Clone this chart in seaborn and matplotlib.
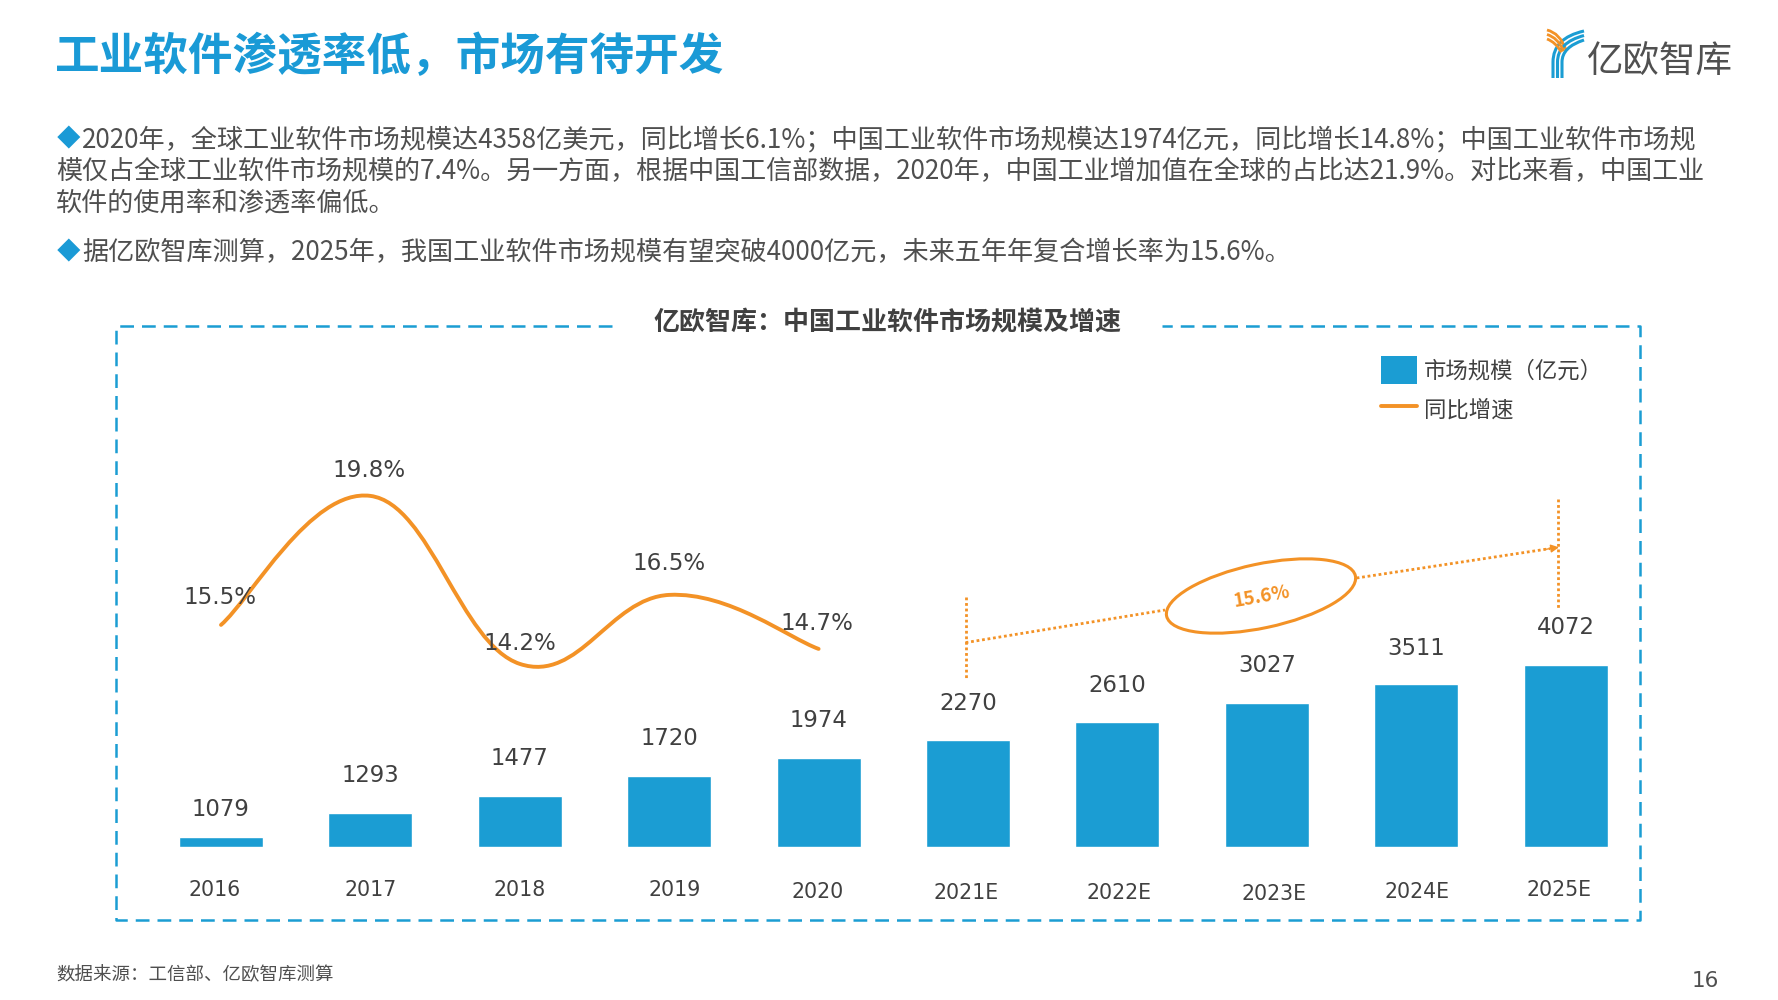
import matplotlib
matplotlib.use('Agg')
import matplotlib.pyplot as plt
import seaborn as sns
import numpy as np
from matplotlib.lines import Line2D
from matplotlib.patches import Patch, PathPatch, Ellipse
from matplotlib.path import Path
from matplotlib.transforms import ScaledTranslation

years = ['2016', '2017', '2018', '2019', '2020', '2021E', '2022E', '2023E', '2024E', '2025E']
market_size = [1079, 1293, 1477, 1720, 1974, 2270, 2610, 3027, 3511, 4072]
growth_years = [0, 1, 2, 3, 4]
growth = [15.5, 19.8, 14.2, 16.5, 14.7]
growth_labels = ['15.5%', '19.8%', '14.2%', '16.5%', '14.7%']
cagr_label = '15.6%'

title = '工业软件渗透率低，市场有待开发'
body_lines = [
    '2020年，全球工业软件市场规模达4358亿美元，同比增长6.1%；中国工业软件市场规模达1974亿元，同比增长14.8%；中国工业软件市场规',
    '模仅占全球工业软件市场规模的7.4%。另一方面，根据中国工信部数据，2020年，中国工业增加值在全球的占比达21.9%。对比来看，中国工业',
    '软件的使用率和渗透率偏低。',
    '据亿欧智库测算，2025年，我国工业软件市场规模有望突破4000亿元，未来五年年复合增长率为15.6%。',
]
chart_title = '亿欧智库：中国工业软件市场规模及增速'
legend_labels = ['市场规模（亿元）', '同比增速']
source = '数据来源：工信部、亿欧智库测算'
page = '16'

BLUE = '#1B9DD3'
TITLE_BLUE = '#1A9AD6'
ORANGE = '#F39226'
DARK = '#404040'
GREY = '#4F4F4F'

W, H = 1778, 1000
LOG_BASE = 1000

sns.set_theme(style='white')
plt.rcParams['font.family'] = ['Noto Sans CJK SC', 'DejaVu Sans']
num_font = ['DejaVu Sans', 'Noto Sans CJK SC']

fig = plt.figure(figsize=(W / 100, H / 100), dpi=100, facecolor='white')


def ax_rect(left, top, right, bottom):
    return [left / W, 1 - bottom / H, (right - left) / W, (bottom - top) / H]


# overlay in pixel coords for the page furniture
bg = fig.add_axes([0, 0, 1, 1])
bg.set_xlim(0, W)
bg.set_ylim(H, 0)
bg.axis('off')

bg.text(55, 57, title, fontsize=32.1, fontweight='bold', color=TITLE_BLUE, va='center')

body_y = [139.5, 171.5, 203.5, 252.5]
body_x = [82, 56, 56, 82]
body_size = [18.83, 18.76, 18.8, 18.83]
for x, y, fs, line in zip(body_x, body_y, body_size, body_lines):
    bg.text(x, y, line, fontsize=fs, color=GREY, va='center')
for y in [body_y[0], body_y[3]]:
    bg.text(57, y, '◆', fontsize=17, color=TITLE_BLUE, va='center')

# dashed frame, open at the chart title
frame = dict(color=BLUE, lw=1.8, ls=(0, (5.5, 3.2)))
bg.plot([612, 115.6, 115.6, 1640, 1640, 1161.6], [326.4, 326.4, 920, 920, 326.4, 326.4], **frame)
bg.text(887, 322, chart_title, fontsize=18.7, fontweight='bold', color=DARK, ha='center', va='center')

bg.text(56, 975, source, fontsize=13.3, color=GREY, va='center')
bg.text(1705, 981, page, fontsize=15.5, color=GREY, ha='center', va='center', family=num_font)

# logo
for c in [0, 4.5, 9]:
    p = Path([(1553 + c, 78), (1553 + c, 62), (1553 + c, 38 + c), (1584, 31 + c)],
             [Path.MOVETO, Path.LINETO, Path.CURVE3, Path.CURVE3])
    bg.add_patch(PathPatch(p, fc='none', ec=BLUE, lw=2.2))
    q = Path([(1547, 30 + c), (1560 - c / 2, 33 + c), (1566 - c / 2, 50 + c / 4)],
             [Path.MOVETO, Path.CURVE3, Path.CURVE3])
    bg.add_patch(PathPatch(q, fc='none', ec=ORANGE, lw=2.0))
bg.text(1660, 63, '亿欧智库', fontsize=26.3, color='#505050', ha='center', va='center', fontweight='light')

# bars, log axis starting at 1000
ax = fig.add_axes(ax_rect(146.3, 249.6, 1640.3, 846.6))
ax.patch.set_visible(False)
sns.barplot(x=years, y=market_size, ax=ax, color=BLUE, saturation=1, width=0.563)
ax.set_yscale('log')
for bar in ax.patches:
    top_val = bar.get_height()
    bar.set_y(LOG_BASE)
    bar.set_height(top_val - LOG_BASE)
ax.set_ylim(LOG_BASE, 100000)
ax.set(xlabel=None, ylabel=None)
ax.set_yticks([])
ax.minorticks_off()
ax.tick_params(axis='x', length=0, pad=24.2, labelsize=14.8, labelcolor=DARK)
sns.despine(ax=ax, left=True, bottom=True)

tick_dx = [-6, 0, 0, 5, -1, -2, 2, 7, 1, -7]
tick_dy = [0, 0, 0, 0, -2, -3, -3, -4, -2, 0]
for lab, dx, dy in zip(ax.get_xticklabels(), tick_dx, tick_dy):
    lab.set_family(num_font)
    lab.set_transform(lab.get_transform() + ScaledTranslation(dx / 100, dy / 100, fig.dpi_scale_trans))

size_lift = [19.4, 27, 27, 27, 27, 26.5, 26.5, 27, 25.6, 26.5]
for i, v in enumerate(market_size):
    ax.annotate(str(v), (i, v), xytext=(0, size_lift[i]), textcoords='offset points',
                ha='center', va='center', fontsize=16.4, color=DARK, family=num_font)

# growth line, own linear axis
ax2 = ax.twinx()
ax2.patch.set_visible(False)
ax2.set_ylim(8.11, 28.01)
ax2.set_yticks([])
sns.despine(ax=ax2, left=True, bottom=True, right=True)


def smooth_path(xs, ys, k=0.2):
    pts = np.column_stack([xs, ys]).astype(float)
    verts = [pts[0]]
    codes = [Path.MOVETO]
    for i in range(len(pts) - 1):
        prev = pts[max(i - 1, 0)]
        nxt = pts[min(i + 2, len(pts) - 1)]
        verts += [pts[i] + (pts[i + 1] - prev) * k, pts[i + 1] - (nxt - pts[i]) * k, pts[i + 1]]
        codes += [Path.CURVE4] * 3
    return Path(verts, codes)


ax2.add_patch(PathPatch(smooth_path(growth_years, growth), fc='none', ec=ORANGE, lw=2.8, capstyle='round'))
growth_lift = [20, 18, 15, 22.5, 18]
growth_dx = [-1, -1, 0, 0, -1]
for x, v, s, lift, dx in zip(growth_years, growth, growth_labels, growth_lift, growth_dx):
    ax2.annotate(s, (x, v), xytext=(dx, lift), textcoords='offset points',
                 ha='center', va='center', fontsize=16.6, color=DARK, family=num_font)

handles = [Patch(fc=BLUE, ec='none'), Line2D([], [], color=ORANGE, lw=2.8)]
ax2.legend(handles, legend_labels, loc='upper left', bbox_to_anchor=(1361 / W, 1 - 336 / H),
           bbox_transform=fig.transFigure, frameon=False, fontsize=16.1, labelcolor=DARK,
           handlelength=1.62, handleheight=1.57, handletextpad=0.3, labelspacing=0.48)

# CAGR callout
top = fig.add_axes([0, 0, 1, 1])
top.patch.set_visible(False)
top.set_xlim(0, W)
top.set_ylim(H, 0)
top.axis('off')
dots = dict(color=ORANGE, lw=2.0, ls=(0, (1, 1)))
top.plot([965.6, 965.6], [597, 680], **dots)
top.plot([1558, 1558], [499, 609], **dots)
top.plot([965.6, 1165], [642.6, 610], **dots)
top.plot([1356.6, 1550], [578, 548.6], **dots)
top.annotate('', xy=(1559, 547.3), xytext=(1545, 549.4),
             arrowprops=dict(arrowstyle='-|>', color=ORANGE, lw=1, mutation_scale=12, shrinkA=0, shrinkB=0))
top.add_patch(Ellipse((1261, 596), 193, 64, angle=-12, fc='none', ec=ORANGE, lw=2.2))
top.text(1262, 596.5, cagr_label, fontsize=13.5, fontweight='bold', color=ORANGE, rotation=10,
         ha='center', va='center', rotation_mode='anchor')

fig.savefig('out.png', dpi=100)
